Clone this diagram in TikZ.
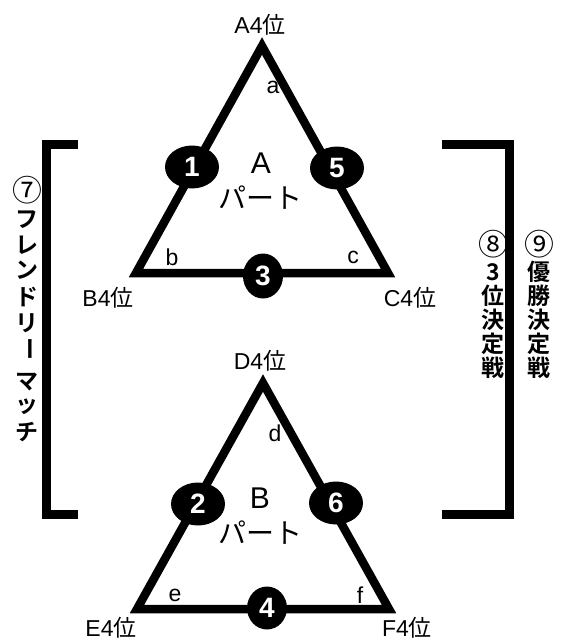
\documentclass[tikz,border=0pt]{standalone}
\usepackage{fontspec}
\setmainfont{Liberation Sans}
\newfontfamily\jp{Noto Sans CJK JP}
\newfontfamily\jpb{Noto Sans CJK JP Bold}
\usetikzlibrary{shapes.geometric}
\newcommand\mycircnum[1]{\scalebox{1.3}{#1}}
\tikzset{
  tri/.style={line width=8.5pt, line join=miter},
  brk/.style={line width=9pt, line join=miter},
  num/.style={ellipse, fill=black, text=white, minimum width=54pt, minimum height=43pt,
    inner sep=0pt, font=\fontsize{28}{28}\selectfont\bfseries},
  numb/.style={num, minimum width=40pt, minimum height=45pt},
  vlbl/.style={inner sep=0pt, font=\fontsize{23}{23}\selectfont},
  elbl/.style={inner sep=0pt, font=\fontsize{23}{23}\selectfont},
  part/.style={inner sep=0pt, font=\fontsize{30}{30}\selectfont},
  partj/.style={inner sep=0pt, font=\jp\fontsize{28}{28}\selectfont},
  vch/.style={inner sep=0pt, font=\jpb\fontsize{23}{23}\selectfont},
  vcn/.style={inner sep=0pt, font=\jp\fontsize{23}{23}\selectfont},
}
\begin{document}
\begin{tikzpicture}[x=1pt,y=-1pt]
\useasboundingbox (0,0) rectangle (568,641);
% triangle A
\coordinate (TA) at (262,46);
\coordinate (TB) at (136,273);
\coordinate (TC) at (388,273);
\draw[tri] (TA) -- (TB) -- (TC) -- cycle;
% triangle B
\coordinate (TD) at (263,383);
\coordinate (TE) at (137,609);
\coordinate (TF) at (389,609);
\draw[tri] (TD) -- (TE) -- (TF) -- cycle;
% brackets
\coordinate (L1) at (78,144);
\coordinate (L2) at (46,144);
\coordinate (L3) at (46,514);
\coordinate (L4) at (78,514);
\draw[brk] (L1) -- (L2) -- (L3) -- (L4);
\coordinate (R1) at (442,144);
\coordinate (R2) at (509,144);
\coordinate (R3) at (509,514);
\coordinate (R4) at (442,514);
\draw[brk] (R1) -- (R2) -- (R3) -- (R4);
% match ellipses
\node[num] (m1) at (192,167) {1};
\node[num] (m5) at (337,168) {5};
\node[numb] (m3) at (263,276) {3};
\node[num] (m2) at (198,504) {2};
\node[num] (m6) at (336,503) {6};
\node[numb, minimum height=43pt] (m4) at (267,608) {4};
% vertex labels
\node[vlbl] (vA) at (260,25) {A4{\jp 位}};
\node[vlbl] (vB) at (108,298) {B4{\jp 位}};
\node[vlbl] (vC) at (410,298) {C4{\jp 位}};
\node[vlbl] (vD) at (260,361) {D4{\jp 位}};
\node[vlbl] (vE) at (111,628) {E4{\jp 位}};
\node[vlbl] (vF) at (407,628) {F4{\jp 位}};
% corner letters
\node[elbl] (ea) at (273,87) {a};
\node[elbl] (eb) at (172,257) {b};
\node[elbl] (ec) at (353,257) {c};
\node[elbl] (ed) at (275,433) {d};
\node[elbl] (ee) at (175,595) {e};
\node[elbl] (ef) at (360,595) {f};
% part labels
\node[part] (pA) at (261,163) {A};
\node[partj] (pAj) at (260,198) {パート};
\node[part] (pB) at (260,498) {B};
\node[partj] (pBj) at (260,533) {パート};
% left vertical text
\node[vcn] (c1) at (27,190) {\mycircnum{⑦}};
\node[vch] (c2) at (27,220) {フ};
\node[vch] (c3) at (27,245) {レ};
\node[vch] (c4) at (27,270) {ン};
\node[vch] (c5) at (27,297) {ド};
\node[vch] (c6) at (27,323) {リ};
\node[vch] (c7) at (27,349) {\rotatebox[origin=c]{-90}{ー}};
\node[vch] (c8) at (27,382) {マ};
\node[vch] (c9) at (27,407) {ッ};
\node[vch] (c10) at (27,432) {チ};
% right vertical text 1
\node[vcn] (e1) at (493,244) {\mycircnum{⑧}};
\foreach \ch [count=\i from 2] in {3,位,決,定,戦}
  \node[vch] (e\i) at (493,{248+24*(\i-1)}) {\ch};
% right vertical text 2
\node[vcn] (f1) at (539,244) {\mycircnum{⑨}};
\foreach \ch [count=\i from 2] in {優,勝,決,定,戦}
  \node[vch] (f\i) at (539,{248+24*(\i-1)}) {\ch};
\end{tikzpicture}
\end{document}
